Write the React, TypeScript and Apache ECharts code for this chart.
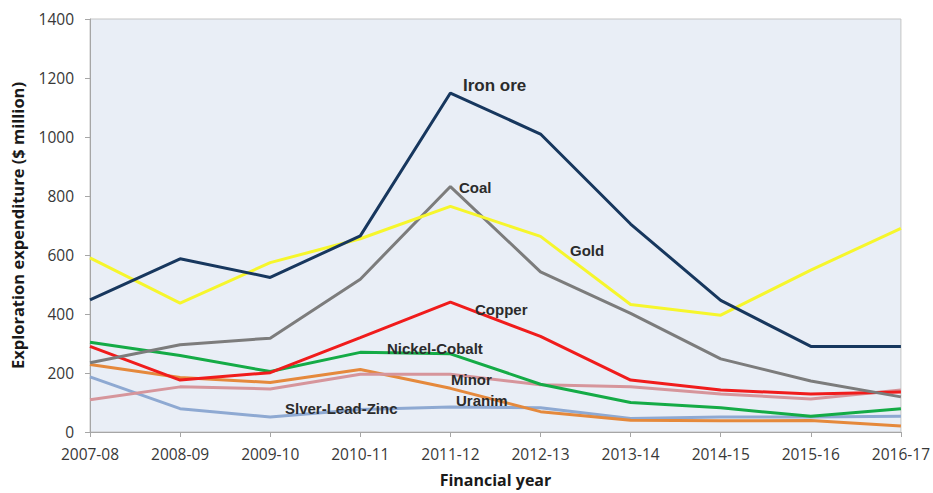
import React, { useEffect, useRef } from "react";
import * as echarts from "echarts";

// Financial years on the x axis
const years = [
  "2007-08", "2008-09", "2009-10", "2010-11", "2011-12",
  "2012-13", "2013-14", "2014-15", "2015-16", "2016-17",
];

// Exploration expenditure by commodity ($ million)
const ironOre = [448, 587, 524, 665, 1149, 1010, 705, 446, 290, 290];
const gold = [590, 437, 574, 655, 765, 663, 432, 396, 549, 690];
const coal = [235, 296, 318, 518, 832, 543, 402, 248, 173, 119];
const copper = [290, 176, 201, 320, 440, 324, 176, 142, 129, 136];
const nickelCobalt = [304, 259, 205, 270, 265, 162, 100, 82, 53, 79];
const minor = [109, 153, 146, 196, 196, 160, 153, 129, 112, 142];
const uranium = [229, 185, 168, 212, 148, 69, 40, 38, 39, 20];
const silverLeadZinc = [187, 79, 51, 76, 85, 82, 46, 51, 51, 53];

const seriesDefs = [
  { name: "Slver-Lead-Zinc", data: silverLeadZinc, color: "#8ea9d2" },
  { name: "Uranim", data: uranium, color: "#e5893c" },
  { name: "Minor", data: minor, color: "#d6959b" },
  { name: "Nickel-Cobalt", data: nickelCobalt, color: "#14ab46" },
  { name: "Copper", data: copper, color: "#f01c1c" },
  { name: "Coal", data: coal, color: "#7c7c7c" },
  { name: "Gold", data: gold, color: "#f6f62c" },
  { name: "Iron ore", data: ironOre, color: "#17375e" },
];

// Inline series annotations
const annotations = [
  { text: "Iron ore", x: 463, y: 87, size: 17 },
  { text: "Coal", x: 459, y: 189, size: 15 },
  { text: "Gold", x: 570, y: 252, size: 15 },
  { text: "Copper", x: 475, y: 311, size: 15 },
  { text: "Nickel-Cobalt", x: 387, y: 350, size: 15 },
  { text: "Minor", x: 451, y: 381, size: 15 },
  { text: "Uranim", x: 456, y: 402, size: 15 },
  { text: "Slver-Lead-Zinc", x: 285, y: 410, size: 15 },
];

export default function App() {
  const ref = useRef<HTMLDivElement>(null);

  useEffect(() => {
    if (!ref.current) return;
    const chart = echarts.init(ref.current, null, { renderer: "svg" });
    chart.setOption({
      animation: false,
      backgroundColor: "#ffffff",
      grid: {
        left: 90,
        top: 19,
        right: 30,
        bottom: 54,
        show: true,
        backgroundColor: "#e9eef6",
        borderColor: "#c4c4c4",
        borderWidth: 1,
      },
      xAxis: {
        type: "category",
        data: years,
        boundaryGap: false,
        name: "Financial year",
        nameLocation: "middle",
        nameGap: 40,
        nameTextStyle: {
          fontFamily: "Open Sans",
          fontWeight: "bold",
          fontSize: 16,
          color: "#1a1a1a",
        },
        axisLine: { lineStyle: { color: "#a6a6a6", width: 1 } },
        axisTick: { show: true, length: 5, lineStyle: { color: "#a6a6a6" } },
        axisLabel: {
          margin: 14,
          fontFamily: "Open Sans",
          fontSize: 15.5,
          color: "#383838",
        },
        splitLine: { show: false },
      },
      yAxis: {
        type: "value",
        min: 0,
        max: 1400,
        interval: 200,
        name: "Exploration expenditure ($ million)",
        nameLocation: "middle",
        nameGap: 64,
        nameTextStyle: {
          fontFamily: "Open Sans",
          fontWeight: "bold",
          fontSize: 16.5,
          color: "#1a1a1a",
        },
        axisLine: { show: true, lineStyle: { color: "#a6a6a6", width: 1 } },
        axisTick: { show: true, length: 5, lineStyle: { color: "#a6a6a6" } },
        axisLabel: {
          margin: 16,
          fontFamily: "Open Sans",
          fontSize: 15.5,
          color: "#383838",
          formatter: (v: number) => String(v),
        },
        splitLine: { show: false },
      },
      series: seriesDefs.map((s) => ({
        name: s.name,
        type: "line",
        data: s.data,
        showSymbol: false,
        symbol: "none",
        lineStyle: { color: s.color, width: 3 },
        itemStyle: { color: s.color },
      })),
      graphic: annotations.map((a) => ({
        type: "text",
        left: a.x,
        top: a.y - a.size * 0.6,
        z: 100,
        style: {
          text: a.text,
          fontFamily: "Liberation Sans",
          fontWeight: "bold",
          fontSize: a.size,
          fill: "#2b2b2b",
        },
      })),
    });
    return () => chart.dispose();
  }, []);

  return (
    <div
      ref={ref}
      style={{ position: "fixed", left: 0, top: 0, width: 933, height: 493 }}
    />
  );
}
